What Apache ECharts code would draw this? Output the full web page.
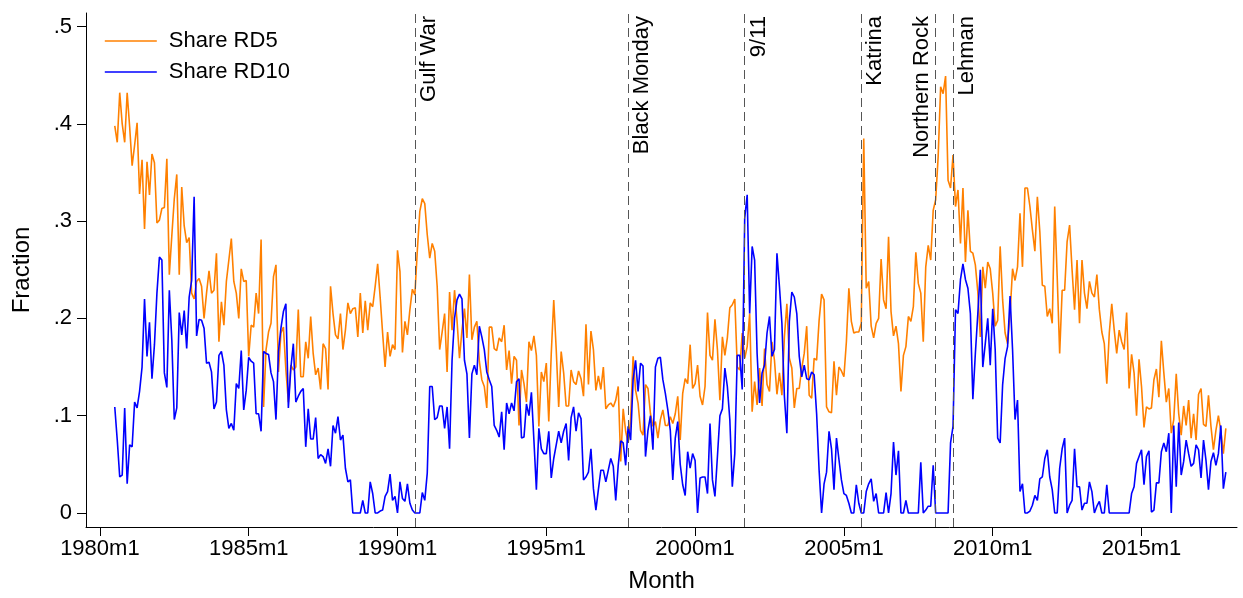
<!DOCTYPE html>
<html lang="en">
<head>
    <meta charset="UTF-8">
    <title>Share RD5 / RD10</title>
    <style>
        html, body {
            margin: 0;
            padding: 0;
            background: #fff;
        }

        #main {
            width: 1243px;
            height: 598px;
        }
    </style>
</head>
<body>
<div id="main"></div>
<script src="https://cdn.jsdelivr.net/npm/echarts@6/dist/echarts.min.js"></script>
<script>
    // monthly series, first value is 1980m7
    const firstMonth = '1980m7'
    const rd5 = [
        .398, .381, .432, .40, .381, .432, .397, .357, .378, .401,
        .328, .363, .292, .361, .327, .369, .36, .298, .301, .313,
        .314, .364, .245, .285, .323, .348, .245, .335, .295, .278,
        .283, .226, .22, .238, .241, .233, .20, .226, .249, .226,
        .229, .267, .176, .217, .193, .238, .26, .282, .238, .226,
        .20, .251, .238, .239, .161, .193, .191, .226, .205, .281,
        .109, .168, .186, .195, .243, .255, .145, .185, .191, .147,
        .114, .152, .147, .15, .209, .14, .14, .176, .159, .202,
        .164, .142, .149, .127, .174, .169, .127, .233, .205, .183,
        .179, .205, .168, .188, .216, .205, .21, .211, .181, .226,
        .185, .218, .188, .216, .212, .233, .256, .222, .185, .15,
        .186, .161, .173, .168, .27, .248, .165, .197, .183, .209,
        .23, .224, .27, .31, .323, .318, .286, .262, .277, .269,
        .233, .168, .186, .205, .145, .227, .188, .229, .198, .159,
        .188, .21, .18, .245, .178, .191, .197, .156, .137, .13,
        .108, .191, .191, .169, .167, .18, .176, .193, .147, .167,
        .133, .161, .157, .09, .147, .133, .114, .176, .167, .182,
        .162, .089, .145, .135, .154, .094, .164, .219, .168, .109,
        .166, .144, .11, .11, .147, .135, .132, .146, .138, .12,
        .194, .132, .187, .168, .126, .141, .127, .15, .107, .111,
        .113, .109, .116, .13, .053, .107, .084, .072, .096, .161,
        .126, .113, .085, .08, .132, .128, .102, .089, .094, .077,
        .096, .106, .09, .09, .099, .092, .102, .12, .075, .123,
        .138, .133, .173, .128, .133, .152, .12, .111, .13, .206,
        .162, .157, .199, .168, .116, .181, .162, .18, .211, .214,
        .22, .15, .147, .185, .159, .171, .205, .104, .135, .111,
        .149, .11, .169, .132, .125, .176, .157, .122, .144, .121,
        .181, .215, .159, .149, .108, .128, .128, .149, .164, .192,
        .121, .118, .159, .157, .198, .225, .219, .109, .104, .103,
        .156, .121, .15, .146, .14, .176, .231, .197, .185, .186,
        .186, .195, .385, .231, .238, .192, .18, .195, .2, .261,
        .219, .21, .284, .207, .182, .192, .174, .125, .162, .171,
        .202, .197, .212, .268, .236, .226, .176, .253, .275, .26,
        .311, .322, .366, .438, .431, .449, .342, .334, .368, .315,
        .332, .277, .334, .258, .311, .269, .267, .255, .227, .181,
        .253, .231, .258, .251, .226, .192, .198, .274, .219, .185,
        .174, .205, .251, .239, .253, .308, .253, .334, .334, .315,
        .291, .269, .325, .289, .234, .233, .202, .21, .195, .315,
        .243, .164, .229, .229, .279, .296, .25, .209, .26, .195,
        .26, .226, .21, .238, .226, .222, .245, .209, .186, .174,
        .133, .185, .215, .188, .164, .188, .176, .168, .206, .128,
        .163, .144, .10, .158, .13, .088, .109, .107, .108, .137,
        .148, .119, .177, .144, .114, .128, .082, .096, .143, .102,
        .08, .11, .09, .116, .077, .102, .075, .122, .128, .091,
        .089, .121, .089, .065, .085, .10, .084, .061, .087
    ]
    const rd10 = [
        .109, .075, .037, .039, .108, .03, .07, .068, .114, .108,
        .125, .15, .22, .161, .196, .138, .173, .226, .263, .26,
        .144, .129, .229, .178, .096, .108, .206, .183, .208, .169,
        .222, .239, .325, .182, .199, .198, .19, .154, .155, .145,
        .107, .114, .162, .166, .152, .106, .087, .092, .085, .133,
        .128, .167, .106, .126, .16, .156, .154, .102, .102, .084,
        .166, .164, .163, .144, .135, .096, .166, .19, .207, .215,
        .108, .149, .174, .114, .12, .125, .128, .068, .107, .076,
        .076, .098, .056, .06, .058, .051, .066, .048, .09, .082,
        .099, .075, .08, .046, .032, .034, 0, 0, 0, 0,
        .013, 0, 0, .032, .02, 0, 0, .002, .003, .017,
        .022, .04, .013, .017, 0, .032, .015, .012, .03, .01,
        .003, 0, 0, 0, .021, .013, .041, .13, .13, .096,
        .098, .11, .11, .087, .109, .066, .157, .2, .219, .225,
        .22, .157, .143, .077, .143, .152, .142, .192, .181, .168,
        .145, .137, .13, .09, .085, .078, .104, .065, .113, .102,
        .113, .105, .135, .138, .077, .078, .112, .1, .124, .075,
        .024, .087, .066, .061, .061, .084, .036, .056, .07, .084,
        .072, .084, .092, .054, .098, .109, .084, .103, .097, .034,
        .037, .042, .066, .025, .003, .024, .044, .044, .032, .044,
        .056, .048, .013, .049, .074, .072, .049, .089, .075, .137,
        .157, .125, .154, .151, .058, .085, .1, .065, .15, .159,
        .16, .137, .123, .106, .085, .034, .077, .094, .05, .029,
        .018, .063, .046, .061, .054, 0, .036, .037, .037, .02,
        .092, .034, .017, .058, .10, .107, .149, .13, .096, .027,
        .061, .162, .162, .127, .303, .327, .205, .274, .26, .164,
        .113, .144, .152, .185, .202, .161, .168, .267, .233, .195,
        .12, .082, .197, .227, .222, .205, .161, .14, .152, .138,
        .137, .145, .142, .102, .044, 0, .03, .042, .084, .066,
        .024, .077, .055, .034, .02, .018, .01, 0, 0, .029,
        .01, 0, 0, .022, .03, .035, .012, .02, 0, 0,
        0, .021, 0, .02, .073, .039, .064, 0, 0, .013,
        0, 0, 0, 0, 0, .052, 0, .003, .007, .007,
        .049, 0, 0, 0, 0, 0, 0, .072, .089, .209,
        .205, .24, .256, .24, .231, .205, .117, .164, .205, .25,
        .15, .174, .2, .152, .21, .168, .077, .072, .132, .159,
        .171, .223, .168, .096, .116, .022, .03, 0, 0, .002,
        .008, .018, .013, .035, .037, .056, .065, .037, .024, 0,
        0, .046, .066, .077, 0, .008, .013, .066, .027, .027,
        .003, .01, .01, .032, .022, 0, .007, .012, 0, 0,
        .029, 0, 0, 0, 0, 0, 0, 0, 0, 0,
        .02, .027, .051, .058, .065, .029, .058, .064, .001, .003,
        .031, .031, .063, .072, .063, .082, 0, .09, .027, .093,
        .039, .053, .075, .061, .048, .051, .07, .065, .036, .075,
        .054, .024, .053, .062, .049, .061, .09, .025, .042
    ]
    const eventNames = ['Gulf War', 'Black Monday', '9/11', 'Katrina', 'Northern Rock', 'Lehman']
    const eventMonths = ['1990m8', '1997m10', '2001m9', '2005m8', '2008m2', '2008m9']
    const xTickLabels = ['1980m1', '1985m1', '1990m1', '1995m1', '2000m1', '2005m1', '2010m1', '2015m1']
    const yTickValues = [0, 0.1, 0.2, 0.3, 0.4, 0.5]
    const yTickLabels = ['0', '.1', '.2', '.3', '.4', '.5']

    // months counted from 1980m1
    function monthIndex(s) {
        let p = s.split('m')
        return (parseInt(p[0]) - 1980) * 12 + parseInt(p[1]) - 1
    }

    const start = monthIndex(firstMonth)
    const xTickValues = xTickLabels.map(monthIndex)
    const font = 'Liberation Sans, Arial, Helvetica, sans-serif'

    let myChart = echarts.init(document.querySelector('#main'))
    let option = {
        animation: false,
        textStyle: {fontFamily: font},
        grid: {left: 86, right: 6, top: 13, bottom: 71},
        legend: {
            data: ['Share RD5', 'Share RD10'],
            orient: 'vertical',
            left: 99,
            top: 25,
            itemWidth: 52,
            itemHeight: 10,
            itemGap: 9,
            itemStyle: {opacity: 0},
            lineStyle: {width: 1.6},
            textStyle: {fontSize: 22, color: '#000', fontFamily: font, padding: [0, 0, 0, 7]}
        },
        xAxis: {
            type: 'value',
            min: -5.6,
            max: 458.5,
            name: 'Month',
            nameLocation: 'middle',
            nameGap: 42,
            nameTextStyle: {fontSize: 24, color: '#000'},
            axisLine: {onZero: false, lineStyle: {color: '#000', width: 1}},
            axisTick: {customValues: xTickValues, length: 9, lineStyle: {color: '#000'}},
            axisLabel: {
                customValues: xTickValues,
                fontSize: 22,
                color: '#000',
                margin: 11,
                formatter: v => xTickLabels[xTickValues.indexOf(Math.round(v))]
            },
            splitLine: {show: false}
        },
        yAxis: {
            type: 'value',
            min: -0.0144,
            max: 0.5139,
            name: 'Fraction',
            nameLocation: 'middle',
            nameGap: 52,
            nameTextStyle: {fontSize: 24, color: '#000'},
            axisLine: {show: true, onZero: false, lineStyle: {color: '#000', width: 1}},
            axisTick: {show: true, customValues: yTickValues, length: 9, lineStyle: {color: '#000'}},
            axisLabel: {
                customValues: yTickValues,
                fontSize: 22,
                color: '#000',
                margin: 14,
                formatter: v => yTickLabels[yTickValues.indexOf(Math.round(v * 10) / 10)]
            },
            splitLine: {show: false}
        },
        series: [
            {
                name: 'Share RD5',
                type: 'line',
                symbol: 'none',
                color: '#ff8000',
                lineStyle: {width: 1.6, color: '#ff8000'},
                data: rd5.map((v, k) => [start + k, v]),
                markLine: {
                    silent: true,
                    symbol: ['none', 'none'],
                    lineStyle: {type: [9, 5], color: '#555', width: 1},
                    label: {fontSize: 22, color: '#000', fontFamily: font},
                    data: eventNames.map((n, k) => ({
                        xAxis: monthIndex(eventMonths[k]),
                        label: {
                            formatter: n,
                            position: n === 'Northern Rock' ? 'insideEndTop' : 'insideEndBottom',
                            distance: 3
                        }
                    }))
                }
            },
            {
                name: 'Share RD10',
                type: 'line',
                symbol: 'none',
                color: '#0000ff',
                lineStyle: {width: 1.6, color: '#0000ff'},
                data: rd10.map((v, k) => [start + k, v])
            }
        ]
    }
    myChart.setOption(option)
</script>
</body>
</html>
